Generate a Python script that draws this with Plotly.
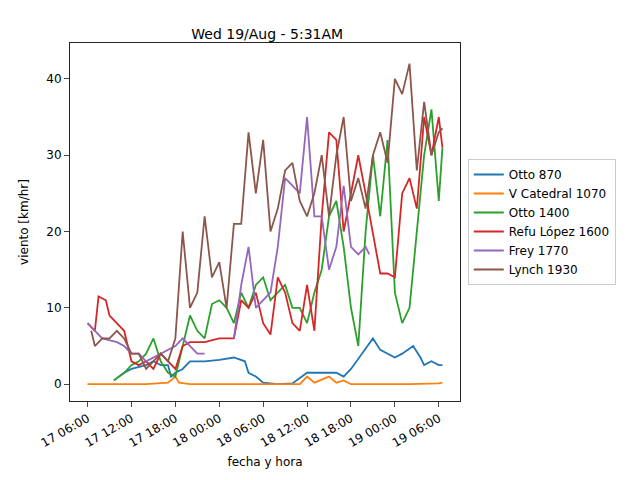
import pandas as pd
import plotly.graph_objects as go

base = pd.Timestamp('2020-08-17 06:00')

horas_otto870 = [3.6, 5, 6, 7, 8, 9, 10, 11, 11.4, 12, 13, 14, 16, 18, 20, 21.5, 22, 23, 24, 26, 28, 30, 32, 34, 35, 36, 37.5, 39, 40, 41, 42, 43, 44.5, 45.5, 46, 47, 48, 48.5]
otto870 = [0.5, 1.5, 2, 2.3, 2.5, 3, 2.5, 2.5, 1, 1.5, 2, 3, 3, 3.2, 3.5, 3, 1.5, 1, 0.2, 0, 0.1, 1.5, 1.5, 1.5, 1, 2, 4, 6, 4.5, 4, 3.5, 4, 5, 3.5, 2.5, 3, 2.5, 2.5]

horas_catedral = [0, 4, 8, 11, 12, 12.5, 14, 18, 22, 26, 29, 30, 31, 33, 34, 35, 36, 40, 44, 48, 48.5]
catedral = [0, 0, 0, 0.2, 1, 0.2, 0, 0, 0, 0, 0, 1, 0.2, 1, 0.2, 0.5, 0, 0, 0, 0.1, 0.2]

horas_otto1400 = [3.6, 5, 6, 7, 8, 9, 10, 11, 12, 13, 14, 15, 16, 17, 18, 19, 20, 21, 22, 23, 24, 25, 26, 27, 28, 29, 30, 31, 32, 33, 34, 35, 36, 37, 38, 39, 40, 41, 42, 43, 44, 45, 46, 47, 48, 48.5]
otto1400 = [0.5, 1.5, 2.5, 3, 4, 6, 3, 1.5, 1, 5, 9, 7, 6, 10.5, 11, 10, 8, 12, 10, 13, 14, 11, 12, 13, 10, 10, 8, 12, 15, 22, 24, 18, 10, 5, 20, 30, 22, 32, 12, 8, 10, 20, 30, 36, 24, 31]

horas_refu = [0, 1, 1.5, 2.5, 3, 4, 5, 6, 7, 8, 9, 10, 11, 12, 13, 14, 15, 16, 18, 19, 20, 21, 22, 23, 24, 25, 26, 27, 28, 29, 30, 31, 32, 33, 34, 35, 36, 37, 38, 39, 40, 41, 42, 43, 44, 45, 46, 47, 48, 48.5]
refu = [8, 7, 11.5, 11, 9, 8, 7, 3, 2.5, 3, 2, 4, 3, 2, 5, 5.5, 5.5, 5.5, 6, 6, 6, 11, 10, 12, 8, 6.5, 14, 12, 8, 7, 13, 7, 22, 33, 32, 20, 25, 30, 25, 20, 14.5, 14.5, 14, 25, 27, 23, 35, 30, 35, 31]

horas_frey = [0, 1, 2, 4, 5, 6, 7, 8, 9, 10, 12, 13, 14, 15, 16, 19.9, 20, 21, 22, 23, 24, 25, 26, 27, 28, 29, 30, 31, 32, 33, 34, 35, 36, 37, 38, 38.5]
frey = [8, 7, 6, 5.5, 5, 4, 4, 3, 3.5, 4, 5, 6, 5, 4, 4, None, 6, 13, 18, 10, 11, 12, 18, 27, 26, 25, 35, 22, 22, 15, 18, 26, 18, 17, 18, 17]

horas_lynch = [0.5, 1, 2, 3, 4, 5, 6, 7, 8, 9, 10, 11, 12, 13, 14, 15, 16, 17, 18, 19, 20, 21, 22, 23, 24, 25, 26, 27, 28, 29, 30, 31, 32, 33, 34, 35, 36, 37, 38, 39, 40, 41, 42, 43, 44, 45, 46, 47, 48, 48.5]
lynch = [7, 5, 6, 6, 7, 6, 4, 4, 2, 3, 4, 3, 6, 20, 10, 12, 22, 14, 16, 10, 21, 21, 33, 25, 32, 20, 23, 28, 29, 24, 22, 25, 30, 22, 30, 35, 24, 27, 23, 30, 33, 29, 40, 38, 42, 28, 37, 30, 33, 33.5]

series = [
    ('Otto 870', horas_otto870, otto870, '#1f77b4'),
    ('V Catedral 1070', horas_catedral, catedral, '#ff7f0e'),
    ('Otto 1400', horas_otto1400, otto1400, '#2ca02c'),
    ('Refu López 1600', horas_refu, refu, '#d62728'),
    ('Frey 1770', horas_frey, frey, '#9467bd'),
    ('Lynch 1930', horas_lynch, lynch, '#8c564b'),
]

fig = go.Figure()
for nombre, horas, valores, color in series:
    fechas = [base + pd.Timedelta(hours=h) for h in horas]
    fig.add_trace(go.Scatter(x=fechas, y=valores, mode='lines', name=nombre,
                             line=dict(color=color, width=1.8), connectgaps=False))

ticks = [base + pd.Timedelta(hours=6 * i) for i in range(9)]
fig.update_layout(
    width=640, height=480, template='simple_white',
    font=dict(family='DejaVu Sans', size=12, color='black'),
    title=dict(text='Wed 19/Aug - 5:31AM', x=0.405, xanchor='center', y=0.955, font=dict(size=14)),
    margin=dict(l=62, r=188, t=35, b=87, autoexpand=False),
    xaxis=dict(title=dict(text='fecha y hora', font=dict(size=12), standoff=8), automargin=False,
               range=[base - pd.Timedelta(hours=2.4), base + pd.Timedelta(hours=50.9)],
               tickvals=ticks, ticktext=[t.strftime('%d %H:%M') for t in ticks], tickangle=-30,
               tickfont=dict(size=12), mirror=True, ticks='outside', showline=True),
    yaxis=dict(title=dict(text='viento [km/hr]', font=dict(size=12)), automargin=False,
               range=[-2.2, 44.7], tickvals=[0, 10, 20, 30, 40], tickfont=dict(size=12),
               mirror=True, ticks='outside', showline=True),
    legend=dict(x=1.02, y=0.5, yanchor='middle', bordercolor='#cccccc', borderwidth=1),
)
fig.write_html('out.html')
